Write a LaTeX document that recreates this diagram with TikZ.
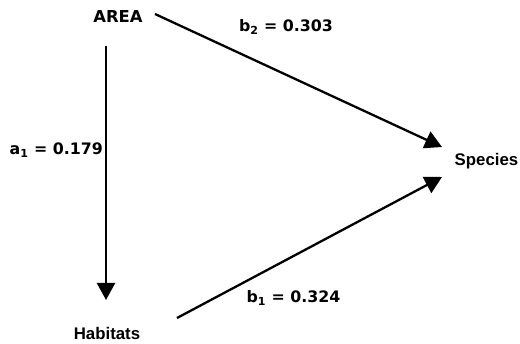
\documentclass[tikz,border=0pt]{standalone}
\usepackage{fontspec}
\newfontfamily\coeffont{DejaVu Sans}
\newfontfamily\varfont{Liberation Sans}
\usetikzlibrary{arrows.meta,calc,positioning}
\tikzset{
  bigvar/.style={font=\coeffont\bfseries\fontsize{16.4}{18}\selectfont,inner sep=0pt},
  smallvar/.style={font=\varfont\bfseries\fontsize{16.8}{18}\selectfont,inner sep=0pt},
  coef/.style={font=\coeffont\bfseries\fontsize{15.8}{18}\selectfont,inner sep=0pt},
  pathline/.style={line width=2.3pt,-{Triangle[length=17pt,width=18pt]}}
}
\begin{document}
\begin{tikzpicture}[x=1pt,y=-1pt]
\useasboundingbox (0,0) rectangle (520,344);
\node[bigvar] (area) at (118,17) {AREA};
\node[smallvar] (habitats) at (107,333) {Habitats};
\node[smallvar] (species) at (486.5,161) {Species};
% paths
\draw[pathline] ($(area)+(-12,29)$) -- ($(habitats)+(-1,-33)$);
\draw[pathline] ($(area)+(37,-3)$) -- ($(species)+(-44.5,-14)$);
\draw[pathline] ($(habitats)+(70,-15)$) -- ($(species)+(-44.5,16)$);
% coefficients
\node[coef,anchor=east] (a1) at (103,150) {a\textsubscript{1} = 0.179};
\node[coef] (b2) at (286,27) {b\textsubscript{2} = 0.303};
\node[coef] (b1) at (293.5,298) {b\textsubscript{1} = 0.324};
\end{tikzpicture}
\end{document}
